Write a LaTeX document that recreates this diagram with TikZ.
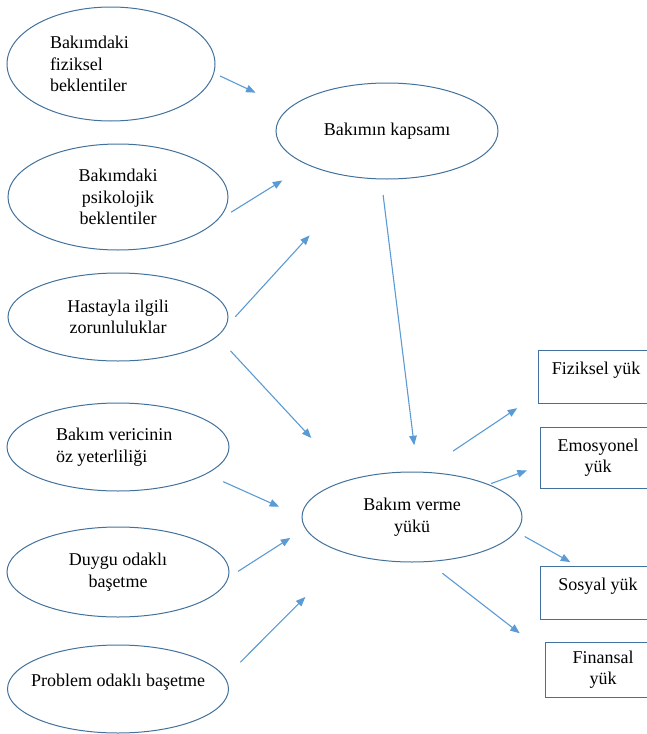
\documentclass[tikz,border=0pt]{standalone}
\usepackage{fontspec}
\setmainfont{Liberation Serif}
\usepackage{tikz}
\usetikzlibrary{arrows.meta,shapes.geometric}

\definecolor{cerceve}{HTML}{41719C}
\definecolor{okmavi}{HTML}{5B9BD5}

\tikzset{
  elips/.style={ellipse,draw=cerceve,line width=1pt,inner sep=0pt,outer sep=0pt,
    font=\fontsize{18}{21.5}\selectfont,align=flush center},
  kutu/.style={rectangle,draw=cerceve,line width=1pt,inner sep=0pt,outer sep=0pt,
    font=\fontsize{18}{21.5}\selectfont,align=flush center,text width=116pt},
  ok/.style={draw=okmavi,line width=1.1pt,-{Triangle[length=9.5pt,width=7.5pt]}}
}

\begin{document}
\begin{tikzpicture}[x=1pt,y=-1pt]
    \useasboundingbox (0,0) rectangle (647,734);
    \clip (0,0) rectangle (647,734);

    \draw (111,64) node[elips,minimum width=208pt,minimum height=114pt,text width=122pt,align=flush left] (fiziksel) {Bakımdaki\\fiziksel\\beklentiler};
    \draw (118,197) node[elips,minimum width=220pt,minimum height=106pt] (psikolojik) {Bakımdaki\\psikolojik\\beklentiler};
    \draw (118,317) node[elips,minimum width=220pt,minimum height=88pt] (hastayla) {Hastayla ilgili\\zorunluluklar};
    \draw (118,447) node[elips,minimum width=222pt,minimum height=88pt,text width=124pt,align=flush left] (ozyeterlilik) {Bakım vericinin\\öz yeterliliği};
    \draw (118,572) node[elips,minimum width=222pt,minimum height=90pt] (duygu) {Duygu odaklı\\başetme};
    \draw (118,689) node[elips,minimum width=221pt,minimum height=88pt,text height=12pt,text depth=18pt] (problem) {\makebox[140pt]{Problem odaklı başetme}};

    \draw (387,131) node[elips,minimum width=222pt,minimum height=96pt] (kapsam) {Bakımın kapsamı};
    \draw (412,517) node[elips,minimum width=220pt,minimum height=90pt] (yuk) {Bakım verme\\yükü};

    \draw (596,376.5) node[kutu,text height=24pt,text depth=29pt] (fizikselyuk) {Fiziksel yük};
    \draw (598,457.5) node[kutu,text height=24pt,text depth=37pt] (emosyonel) {Emosyonel\\yük};
    \draw (598,592.5) node[kutu,text height=24pt,text depth=29pt] (sosyal) {Sosyal yük};
    \draw (603,669.5) node[kutu,text height=21pt,text depth=34pt] (finansal) {Finansal\\yük};

    \path (fiziksel.-5.6) edge[ok,shorten <=7pt,shorten >=37pt] (kapsam.167.1);
    \path (psikolojik.-15.2) edge[ok,shorten <=20pt,shorten >=30pt] (kapsam.-157.9);
    \path (hastayla.-8) edge[ok,shorten <=20pt,shorten >=78pt] (kapsam.-118.7);
    \path (hastayla.-11.9) edge[ok,shorten <=20pt,shorten >=57pt] (yuk.149.3);
    \path (kapsam.-97.1) edge[ok,shorten <=16pt,shorten >=27pt] (yuk.83.3);
    \path (ozyeterlilik.-17.2) edge[ok,shorten <=19pt,shorten >=25pt] (yuk.180);
    \path (duygu.-3.5) edge[ok,shorten <=12pt,shorten >=18pt] (yuk.-174.2);
    \path (problem.6.1) edge[ok,shorten <=22pt,shorten >=61pt] (yuk.-150.1);

    \path (yuk.78) edge[ok,shorten <=38pt,shorten >=25pt] (fizikselyuk.-163.3);
    \path (yuk.23.7) edge[ok,shorten <=3pt,shorten >=14pt] (emosyonel.-172.2);
    \path (yuk.-8.2) edge[ok,shorten <=10pt,shorten >=8pt] (sosyal.128.1);
    \path (yuk.-71) edge[ok,shorten <=19pt,shorten >=32pt] (finansal.164.6);

\end{tikzpicture}
\end{document}
